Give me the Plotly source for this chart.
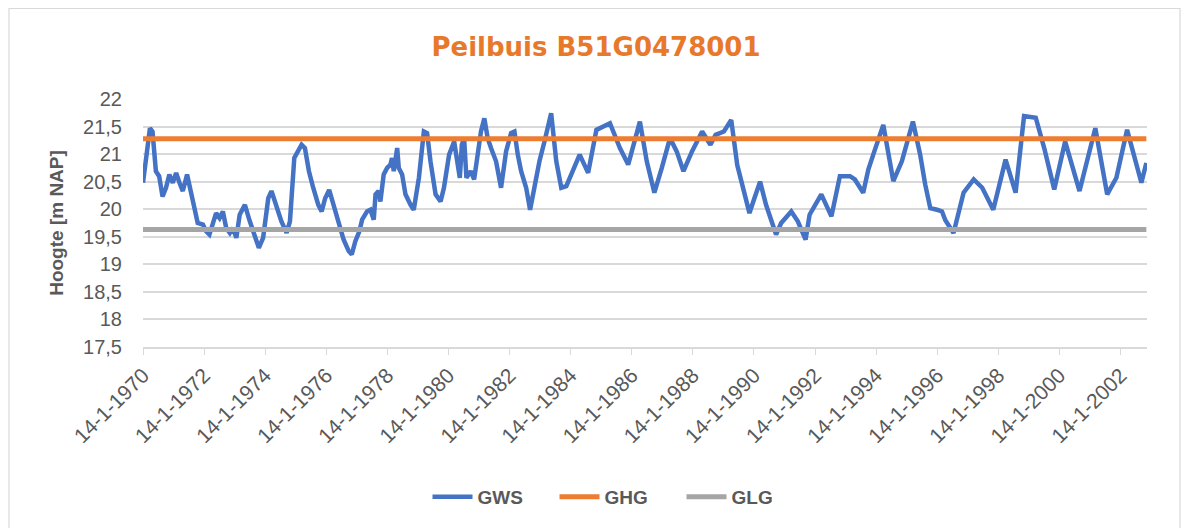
import plotly.graph_objects as go

# ---- data ----
gws_dates = [
    "1970-01-14", "1970-04-07", "1970-05-08", "1970-06-17", "1970-07-26", "1970-09-05", "1970-10-16",
    "1970-11-25", "1971-01-05", "1971-02-14", "1971-03-26", "1971-05-05", "1971-06-25", "1971-08-12",
    "1971-09-20", "1971-10-30", "1972-01-01", "1972-02-07", "1972-03-18", "1972-04-28", "1972-06-06",
    "1972-07-18", "1972-08-26", "1972-10-05", "1972-11-17", "1972-12-24", "1973-02-03", "1973-03-15",
    "1973-05-16", "1973-07-14", "1973-09-13", "1973-10-30", "1973-12-20", "1974-02-20", "1974-03-30",
    "1974-05-30", "1974-07-27", "1974-09-27", "1974-11-06", "1974-12-28", "1975-02-14", "1975-03-25",
    "1975-05-04", "1975-06-21", "1975-08-11", "1975-10-11", "1975-11-20", "1976-01-01", "1976-02-18",
    "1976-04-10", "1976-06-09", "1976-08-08", "1976-10-08", "1976-11-14", "1976-12-27", "1977-02-13",
    "1977-03-18", "1977-05-16", "1977-06-25", "1977-08-04", "1977-08-25", "1977-10-01", "1977-10-22",
    "1977-12-01", "1978-01-11", "1978-02-20", "1978-03-10", "1978-03-31", "1978-05-11", "1978-05-30",
    "1978-07-09", "1978-08-18", "1978-10-18", "1978-11-25", "1979-01-26", "1979-03-26", "1979-05-04",
    "1979-06-13", "1979-08-13", "1979-10-12", "1979-11-21", "1980-01-22", "1980-03-22", "1980-05-01",
    "1980-05-29", "1980-06-22", "1980-07-19", "1980-08-16", "1980-10-07", "1980-11-16", "1980-12-27",
    "1981-02-06", "1981-03-18", "1981-04-27", "1981-06-06", "1981-08-05", "1981-10-04", "1981-12-03",
    "1982-02-01", "1982-03-13", "1982-04-22", "1982-06-01", "1982-07-31", "1982-09-16", "1982-11-06",
    "1983-01-06", "1983-03-07", "1983-05-26", "1983-07-26", "1983-09-24", "1983-11-23", "1984-01-22",
    "1984-05-01", "1984-08-10", "1984-11-17", "1985-04-28", "1985-08-25", "1985-12-02", "1986-04-21",
    "1986-07-12", "1986-10-11", "1987-01-08", "1987-04-16", "1987-07-05", "1987-09-24", "1988-01-04",
    "1988-05-04", "1988-08-11", "1988-10-12", "1989-01-19", "1989-04-17", "1989-06-28", "1989-11-21",
    "1990-01-19", "1990-03-28", "1990-06-07", "1990-08-07", "1990-10-05", "1990-12-05", "1991-04-05",
    "1991-06-22", "1991-09-23", "1991-11-10", "1992-03-29", "1992-07-28", "1992-11-06", "1993-03-07",
    "1993-05-04", "1993-08-12", "1993-10-12", "1993-12-10", "1994-04-09", "1994-08-07", "1994-11-17",
    "1995-03-29", "1995-06-24", "1995-08-23", "1995-10-23", "1996-01-12", "1996-03-11", "1996-04-20",
    "1996-07-27", "1996-11-24", "1997-03-25", "1997-07-05", "1997-11-14", "1998-04-10", "1998-08-08",
    "1998-11-17", "1999-04-06", "1999-07-16", "1999-11-13", "2000-03-22", "2000-09-10", "2001-03-18",
    "2001-08-07", "2001-11-25", "2002-04-02", "2002-09-20", "2002-11-18",
]
gws_values = [
    20.48, 21.47, 21.41, 20.69, 20.60, 20.23, 20.39,
    20.63, 20.48, 20.66, 20.48, 20.33, 20.63, 20.33,
    20.02, 19.75, 19.72, 19.60, 19.54, 19.72, 19.93,
    19.84, 19.96, 19.66, 19.57, 19.66, 19.48, 19.90,
    20.08, 19.78, 19.48, 19.30, 19.48, 20.20, 20.33,
    20.02, 19.78, 19.57, 19.78, 20.93, 21.05, 21.17,
    21.11, 20.69, 20.39, 20.08, 19.96, 20.20, 20.35,
    20.08, 19.78, 19.45, 19.24, 19.18, 19.42, 19.60,
    19.81, 19.96, 19.99, 19.81, 20.27, 20.33, 20.14,
    20.63, 20.75, 20.81, 20.93, 20.69, 21.11, 20.75,
    20.63, 20.27, 20.08, 19.99, 20.57, 21.41, 21.38,
    20.87, 20.27, 20.14, 20.39, 20.99, 21.23, 20.87,
    20.57, 21.17, 21.29, 20.57, 20.69, 20.54, 20.99,
    21.41, 21.65, 21.29, 21.11, 20.87, 20.39, 21.05,
    21.38, 21.41, 20.99, 20.69, 20.39, 19.99, 20.39,
    20.87, 21.23, 21.74, 20.87, 20.39, 20.42, 20.63,
    20.99, 20.66, 21.44, 21.56, 21.11, 20.81, 21.59,
    20.87, 20.30, 20.75, 21.29, 21.05, 20.69, 21.05,
    21.41, 21.17, 21.35, 21.41, 21.62, 20.80, 19.93,
    20.20, 20.50, 20.08, 19.78, 19.54, 19.75, 19.96,
    19.78, 19.45, 19.90, 20.27, 19.87, 20.60, 20.60,
    20.54, 20.30, 20.72, 20.99, 21.53, 20.51, 20.87,
    21.59, 20.99, 20.45, 20.02, 19.99, 19.96, 19.80,
    19.57, 20.30, 20.54, 20.39, 19.99, 20.90, 20.30,
    21.69, 21.66, 21.11, 20.36, 21.23, 20.33, 21.47,
    20.27, 20.57, 21.44, 20.48, 20.84,
]
ref_dates = ["1970-01-14", "2002-11-18"]
ghg_values = [21.28, 21.28]
glg_values = [19.63, 19.63]

tick_dates = ["1970-01-14", "1972-01-14", "1974-01-14", "1976-01-14", "1978-01-14", "1980-01-14",
              "1982-01-14", "1984-01-14", "1986-01-14", "1988-01-14", "1990-01-14", "1992-01-14",
              "1994-01-14", "1996-01-14", "1998-01-14", "2000-01-14", "2002-01-14"]
tick_labels = ["14-1-1970", "14-1-1972", "14-1-1974", "14-1-1976", "14-1-1978", "14-1-1980",
               "14-1-1982", "14-1-1984", "14-1-1986", "14-1-1988", "14-1-1990", "14-1-1992",
               "14-1-1994", "14-1-1996", "14-1-1998", "14-1-2000", "14-1-2002"]

title_text = "Peilbuis B51G0478001"
y_title = "Hoogte [m NAP]"

GREY_TXT = "#595959"
# plot area in figure pixels (page is offset by the 8px body margin)
L, R, T, B = 135, 1139, 91, 339
PW, PH = R - L, B - T

fig = go.Figure()
fig.add_trace(go.Scatter(x=gws_dates, y=gws_values, mode="lines", name="GWS",
                         line=dict(color="#4472C4", width=4.5)))
fig.add_trace(go.Scatter(x=ref_dates, y=ghg_values, mode="lines", name="GHG",
                         line=dict(color="#ED7D31", width=5)))
fig.add_trace(go.Scatter(x=ref_dates, y=glg_values, mode="lines", name="GLG",
                         line=dict(color="#A5A5A5", width=5)))

fig.update_layout(
    width=1189, height=528,
    margin=dict(l=L, r=1189 - R, t=T, b=528 - B, autoexpand=False),
    paper_bgcolor="white", plot_bgcolor="white",
    separators=",.",
    title=dict(text=title_text, x=588 / 1189, xanchor="center", y=1 - 39 / 528, yanchor="middle",
               font=dict(family="DejaVu Sans", size=26, color="#E8792B", weight="bold")),
    font=dict(family="Liberation Sans, Arial", color=GREY_TXT),
    showlegend=True,
    legend=dict(orientation="h", x=(610 - L) / PW, xanchor="center", y=(B - 489) / PH, yanchor="middle",
                font=dict(family="Liberation Sans, Arial", size=19, color=GREY_TXT, weight="bold"),
                entrywidth=72, itemwidth=40, bgcolor="rgba(0,0,0,0)"),
    xaxis=dict(type="date", range=["1970-01-14", "2002-11-26"],
               tickmode="array", tickvals=tick_dates, ticktext=tick_labels,
               tickangle=-45, tickfont=dict(size=21, color=GREY_TXT),
               showgrid=False, showline=True, linecolor="#D9D9D9", linewidth=1.5,
               ticks="outside", ticklen=6, tickcolor="#D9D9D9", zeroline=False),
    yaxis=dict(range=[17.5, 22], dtick=0.5, tick0=17.5,
               tickfont=dict(size=20, color=GREY_TXT), ticklabelstandoff=20,
               showgrid=True, gridcolor="#D9D9D9", gridwidth=1.5, zeroline=False,
               title=dict(text=y_title, font=dict(size=19, color=GREY_TXT, weight="bold"), standoff=14),
               ticks="", showline=False),
    shapes=[dict(type="rect", xref="paper", yref="paper",
                 x0=(1 - L) / PW, x1=(1172 - L) / PW,
                 y0=(B - 560) / PH, y1=(B - 0.5) / PH,
                 line=dict(color="#D9D9D9", width=1.2), fillcolor="rgba(0,0,0,0)", layer="below")],
)

fig.write_html("out.html")
